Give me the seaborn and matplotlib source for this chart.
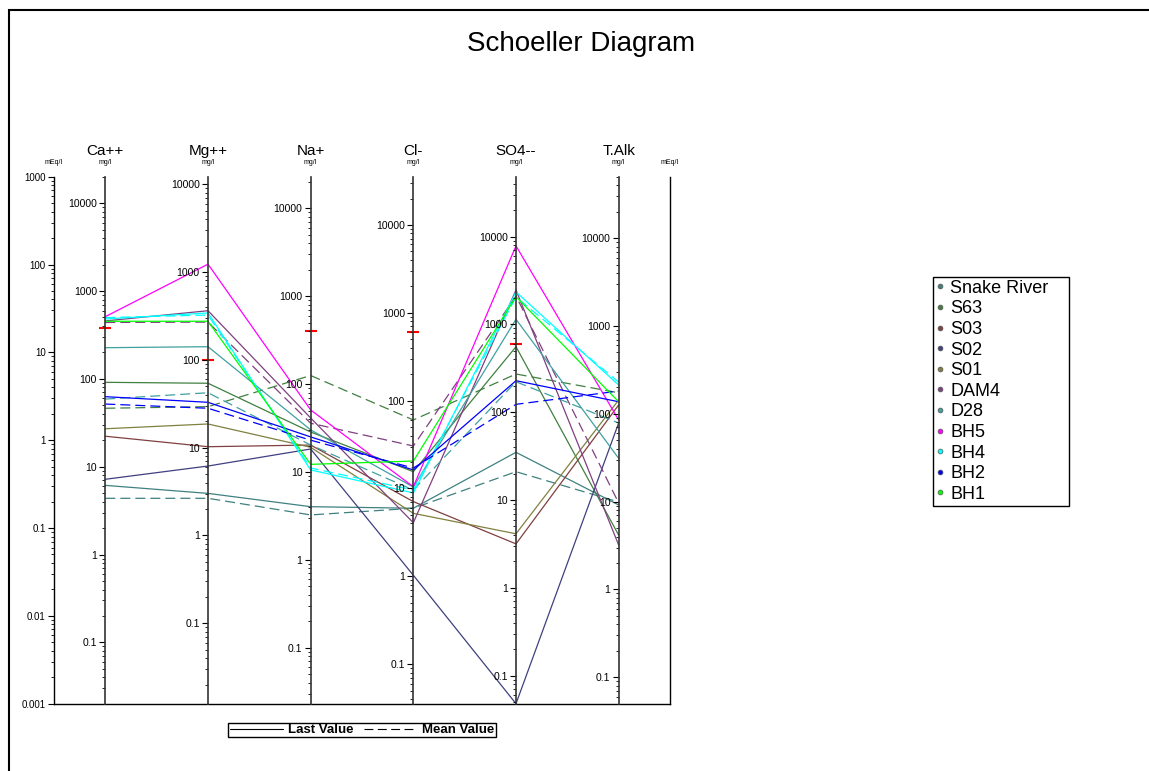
import numpy as np
import pandas as pd
import seaborn as sns
import matplotlib.pyplot as plt
from matplotlib.lines import Line2D
from matplotlib.patches import Rectangle
from matplotlib.ticker import LogLocator, FuncFormatter, NullFormatter

# ions on the diagram and their equivalent weights (mg per mEq, T.Alk as CaCO3)
ions = ['Ca++', 'Mg++', 'Na+', 'Cl-', 'SO4--', 'T.Alk']
eq_weights = [20.04, 12.15, 22.99, 35.45, 48.03, 50.04]
guide_mg = [375, 100, 400, 600, 600]  # red marks on Ca..SO4, mg/l

samples = ['Snake River', 'S63', 'S03', 'S02', 'S01', 'DAM4', 'D28',
           'BH5', 'BH4', 'BH2', 'BH1']
colors = ['#408080', '#408040', '#804040', '#404080', '#808040', '#804080',
          '#40a0a0', '#ff00ff', '#00ffff', '#0000ff', '#00ff00']

# last values, mEq/l
snake_river_last = [0.306, 0.248, 0.175, 0.168, 0.728, 0.183]
s63_last = [4.56, 4.45, 1.24, 0.438, 11.6, 0.083]
s03_last = [1.11, 0.843, 0.881, 0.200, 0.066, 2.52]
s02_last = [0.359, 0.508, 0.794, 0.029, 0.001, 1.57]
s01_last = [1.35, 1.53, 0.83, 0.147, 0.086, 2.87]
dam4_last = [22.8, 29.8, 1.79, 0.115, 51.3, 0.064]
d28_last = [11.3, 11.6, 1.31, 0.293, 23.8, 0.622]
bh5_last = [25.5, 101, 2.21, 0.295, 163, 1.70]
bh4_last = [24.0, 28.1, 0.458, 0.251, 48.7, 4.25]
bh2_last = [3.13, 2.70, 1.09, 0.458, 4.76, 2.74]
bh1_last = [22.6, 22.6, 0.531, 0.579, 43.0, 2.74]

# mean values, mEq/l (samples with several analyses)
snake_river_mean = [0.218, 0.218, 0.141, 0.168, 0.438, 0.198]
s63_mean = [2.31, 2.41, 5.45, 1.70, 5.67, 3.47]
dam4_mean = [21.9, 22.1, 1.56, 0.859, 43.8, 0.193]
d28_mean = [2.94, 3.47, 0.881, 0.271, 4.63, 1.57]
bh4_mean = [24.9, 26.6, 0.482, 0.271, 42.7, 4.59]
bh2_mean = [2.58, 2.31, 1.00, 0.482, 2.56, 3.63]

last = {'Snake River': snake_river_last, 'S63': s63_last, 'S03': s03_last,
        'S02': s02_last, 'S01': s01_last, 'DAM4': dam4_last, 'D28': d28_last,
        'BH5': bh5_last, 'BH4': bh4_last, 'BH2': bh2_last, 'BH1': bh1_last}
mean = {'Snake River': snake_river_mean, 'S63': s63_mean, 'DAM4': dam4_mean,
        'D28': d28_mean, 'BH4': bh4_mean, 'BH2': bh2_mean}

rows = []
for kind, table in [('Last Value', last), ('Mean Value', mean)]:
    for name, vals in table.items():
        for i, v in enumerate(vals):
            rows.append({'sample': name, 'kind': kind, 'pos': i + 1, 'meq': v})
df = pd.DataFrame(rows)

sns.set_style('white')
plt.rcParams['font.family'] = ['Liberation Sans', 'DejaVu Sans']
plt.rcParams['text.color'] = 'black'
plt.rcParams['ytick.color'] = 'black'

fig = plt.figure(figsize=(11.49, 7.71), dpi=100)
ax = fig.add_axes([54 / 1149, 1 - 703.7 / 771, 616 / 1149, 527 / 771])

sns.lineplot(data=df, x='pos', y='meq', hue='sample', style='kind',
             hue_order=samples, palette=colors,
             style_order=['Last Value', 'Mean Value'],
             dashes={'Last Value': '', 'Mean Value': (8, 4)},
             estimator=None, sort=False, lw=0.9, legend=False, ax=ax)

ax.set_yscale('log')
ax.set_ylim(0.001, 1000)
ax.set_xlim(0.5, 6.5)
ax.set_xticks([])
ax.set_xlabel('')
ax.set_ylabel('')
ax.spines['top'].set_visible(False)
for s in ['left', 'right', 'bottom']:
    ax.spines[s].set_color('black')
    ax.spines[s].set_linewidth(1)
ax.yaxis.set_major_locator(LogLocator(base=10))
ax.yaxis.set_minor_locator(LogLocator(base=10, subs=np.arange(2, 10)))
ax.yaxis.set_major_formatter(FuncFormatter(lambda v, p: f'{v:g}'))
ax.yaxis.set_minor_formatter(NullFormatter())
ax.tick_params(axis='y', which='both', left=True, right=True,
               labelleft=True, labelright=True, direction='out')
ax.tick_params(axis='y', which='major', length=4, width=0.8, labelsize=7, pad=2)
ax.tick_params(axis='y', which='minor', length=2, width=0.6)

# red guide marks
guide_meq = [g / w for g, w in zip(guide_mg, eq_weights)]
ax.plot(range(1, 6), guide_meq, ls='none', marker='_', ms=9, mew=1.5,
        color='red', zorder=5)

# one mg/l axis per ion
for i, (ion, w) in enumerate(zip(ions, eq_weights)):
    tw = ax.twinx()
    tw.xaxis.set_visible(False)
    tw.set_yscale('log')
    tw.set_ylim(0.001 * w, 1000 * w)
    tw.yaxis.set_ticks_position('left')
    for s in ['top', 'right', 'bottom']:
        tw.spines[s].set_visible(False)
    tw.spines['left'].set_position(('data', i + 1))
    tw.spines['left'].set_color('#333333')
    tw.spines['left'].set_linewidth(1.2)
    tw.yaxis.set_major_locator(LogLocator(base=10))
    tw.yaxis.set_minor_locator(LogLocator(base=10, subs=np.arange(2, 10)))
    tw.yaxis.set_major_formatter(FuncFormatter(lambda v, p: f'{v:g}'))
    tw.yaxis.set_minor_formatter(NullFormatter())
    tw.tick_params(axis='y', which='major', length=4, width=0.8,
                   labelsize=7.5, direction='out', pad=2)
    tw.tick_params(axis='y', which='minor', length=2, width=0.6, direction='out')
    ax.text(i + 1, 1.049, ion, transform=ax.get_xaxis_transform(),
            ha='center', va='center', fontsize=11)
    ax.text(i + 1, 1.027, 'mg/l', transform=ax.get_xaxis_transform(),
            ha='center', va='center', fontsize=5)

ax.text(0.5, 1.027, 'mEq/l', transform=ax.get_xaxis_transform(),
        ha='center', va='center', fontsize=5)
ax.text(6.5, 1.027, 'mEq/l', transform=ax.get_xaxis_transform(),
        ha='center', va='center', fontsize=5)

fig.text(581 / 1149, 1 - 44 / 771, 'Schoeller Diagram', ha='center',
         va='center', fontsize=20)

# sample legend
handles = [Line2D([], [], ls='none', marker='o', ms=3.5, mfc=c, mec='#555555',
                  mew=0.5) for c in colors]
fig.legend(handles, samples, loc='upper left',
           bbox_to_anchor=(933 / 1149, 1 - 514 / 771, 136 / 1149, 237 / 771),
           mode='expand', frameon=True, fancybox=False, edgecolor='black',
           fontsize=13, handlelength=0.5, handletextpad=0.3, labelspacing=0.2,
           borderpad=0.15, borderaxespad=0, framealpha=1)

# line style legend
style_handles = [Line2D([], [], color='black', lw=0.8),
                 Line2D([], [], color='black', lw=0.8, ls=(0, (8, 4)))]
fig.legend(style_handles, ['Last Value', 'Mean Value'], loc='center',
           bbox_to_anchor=(362 / 1149, 1 - 730 / 771), ncol=2, frameon=True,
           fancybox=False, edgecolor='black', prop={'weight': 'bold', 'size': 9.5},
           handlelength=4.0, handletextpad=0.4, columnspacing=0.8,
           borderpad=0.1, borderaxespad=0, framealpha=1)

fig.patches.append(Rectangle((9 / 1149, -0.1), 1.2, 1 - 10 / 771 + 0.1,
                             transform=fig.transFigure, fill=False,
                             lw=1.5, ec='black'))

fig.savefig('out.png', dpi=100)
